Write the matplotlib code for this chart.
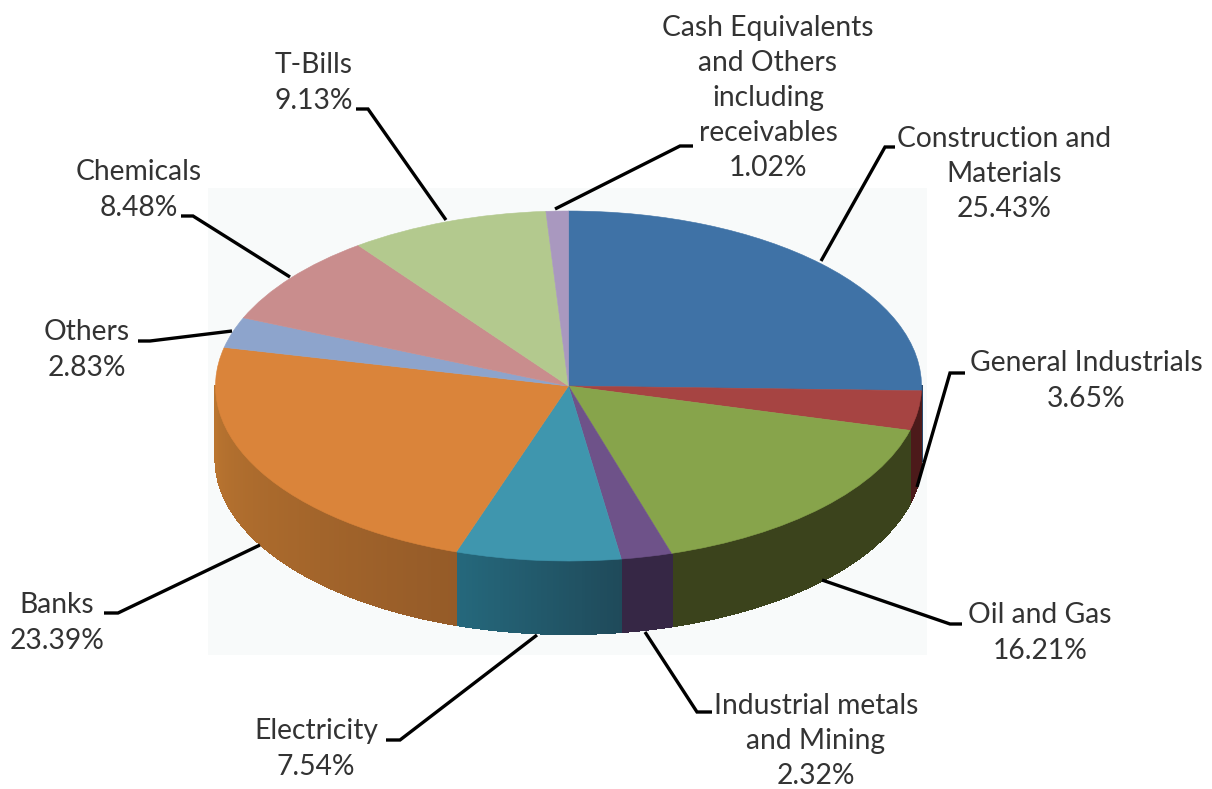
import numpy as np
import matplotlib
matplotlib.use("Agg")
import matplotlib.pyplot as plt
from matplotlib.patches import Rectangle
from matplotlib.colors import to_rgb

plt.rcParams['font.family'] = ['Lato', 'DejaVu Sans']

labels = ["Construction and\nMaterials\n25.43%", "General Industrials\n3.65%", "Oil and Gas\n16.21%",
          "Industrial metals\nand Mining\n2.32%", "Electricity\n7.54%", "Banks\n23.39%", "Others\n2.83%",
          "Chemicals\n8.48%", "T-Bills\n9.13%", "Cash Equivalents\nand Others\nincluding\nreceivables\n1.02%"]
values = [25.43, 3.65, 16.21, 2.32, 7.54, 23.39, 2.83, 8.48, 9.13, 1.02]

top_colors = ["#3f72a6", "#a64442", "#87a44b", "#6e5289", "#3f96ae",
              "#da843a", "#8da4cc", "#c98d8d", "#b3c98e", "#a998bf"]
# side wall colour at the right end and left end of each visible piece
side_right = ["#2a4a6c", "#4c1a1a", "#3b431c", "#362745", "#1f4a5a",
              "#955b28", "#8da4cc", "#c98d8d", "#b3c98e", "#a998bf"]
side_left = ["#2a4a6c", "#4c1a1a", "#3b431c", "#362745", "#25687c",
             "#ba7530", "#8da4cc", "#c98d8d", "#b3c98e", "#a998bf"]

# pie geometry in reference pixels
cx, cy = 568.5, 386
rx, ry = 353, 175
depth = 73 / ry

# label centres and leader lines in reference pixels
label_pos = [(1004, 174), (1086, 381), (1040, 633), (816, 741), (316, 749),
             (57, 623), (87, 350), (139, 190), (314, 83), (768, 98)]
leaders = [[(821, 261), (885, 147), (895, 147)],
           [(917, 487), (950, 373), (965, 373)],
           [(822, 580), (950, 624), (962, 624)],
           [(645, 632), (697, 712), (712, 712)],
           [(537, 635), (400, 740), (386, 740)],
           [(260, 545), (118, 613), (104, 613)],
           [(232, 331), (150, 341), (138, 341)],
           [(290, 277), (193, 216), (181, 216)],
           [(446, 220), (368, 109), (356, 109)],
           [(555, 209), (680, 146), (693, 146)]]


def px(x, y):
    return (x - cx) / rx, (cy - y) / ry


fig = plt.figure(figsize=(12.12, 7.89), dpi=100, facecolor="white")
ax = fig.add_axes([0, 0, 1, 1])
ax.pie(values, colors=top_colors, startangle=90, counterclock=False, radius=1,
       wedgeprops=dict(linewidth=0.4, zorder=5))
for w, c in zip(ax.patches, top_colors):
    w.set_edgecolor(c)
ax.set_aspect('auto')
ax.set_xlim(px(0, 0)[0], px(1212, 0)[0])
ax.set_ylim(px(0, 789)[1], px(0, 0)[1])

# pale plot area behind the pie
x0, y0 = px(208, 655)
x1, y1 = px(927, 188)
ax.add_patch(Rectangle((x0, y0), x1 - x0, y1 - y0, facecolor="#f8fafa", edgecolor="none", zorder=0))

# side wall, only the front half of the rim can be seen
edges = 90 - 3.6 * np.concatenate([[0], np.cumsum(values)])
for i in range(len(values)):
    a = max(edges[i + 1], -180)
    b = min(edges[i], 0)
    if b <= a:
        continue
    steps = np.linspace(b, a, max(2, int((b - a) * 2)))
    c0 = np.array(to_rgb(side_right[i]))
    c1 = np.array(to_rgb(side_left[i]))
    for k in range(len(steps) - 1):
        t = np.radians([steps[k], steps[k + 1]])
        xs = np.cos(t)
        ys = np.sin(t)
        col = c0 + (c1 - c0) * (k / max(1, len(steps) - 2))
        ax.fill([xs[0], xs[1], xs[1], xs[0]],
                [ys[0], ys[1], ys[1] - depth, ys[0] - depth],
                facecolor=col, edgecolor=col, linewidth=0.8, antialiased=False, zorder=2)

for pts in leaders:
    xy = np.array([px(*p) for p in pts])
    ax.plot(xy[:, 0], xy[:, 1], color="black", linewidth=2.4, solid_capstyle='butt',
            solid_joinstyle='miter', zorder=6)

for text, pos in zip(labels, label_pos):
    x, y = px(*pos)
    ax.text(x, y, text, ha='center', va='center', fontsize=20.3, color="#333333",
            linespacing=1.44, zorder=7)

fig.savefig("out.png", dpi=100)
